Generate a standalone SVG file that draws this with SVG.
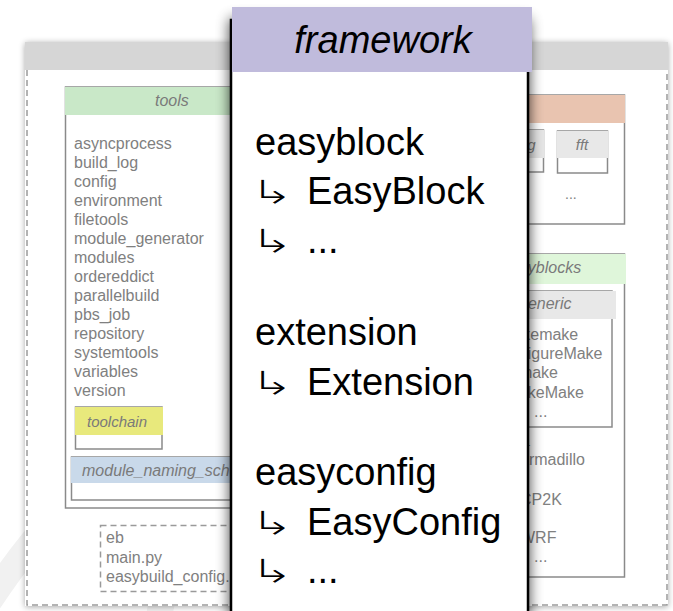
<svg xmlns="http://www.w3.org/2000/svg" width="673" height="611" viewBox="0 0 673 611">
<defs>
<filter id="fwShadow" x="-20%" y="-10%" width="140%" height="120%">
<feGaussianBlur in="SourceAlpha" stdDeviation="7"/>
<feComponentTransfer><feFuncA type="linear" slope="0.75"/></feComponentTransfer>
<feMerge><feMergeNode/><feMergeNode in="SourceGraphic"/></feMerge>
</filter>
<filter id="panelShadow" x="-5%" y="-5%" width="110%" height="110%">
<feGaussianBlur in="SourceAlpha" stdDeviation="3"/>
<feOffset dx="0" dy="1"/>
<feComponentTransfer><feFuncA type="linear" slope="0.35"/></feComponentTransfer>
<feMerge><feMergeNode/><feMergeNode in="SourceGraphic"/></feMerge>
</filter>
<style>
.box{fill:#fff;stroke:#8a8a8a;stroke-width:1.5}
.dash{fill:none;stroke:#9a9a9a;stroke-width:1.5;stroke-dasharray:6 4}
.item{font-family:"Liberation Sans",Arial,sans-serif;font-size:16px;fill:#808080}
.lbl{font-family:"Liberation Sans",Arial,sans-serif;font-size:16px;font-style:italic;fill:#7a7a7a}
.big{font-family:"Liberation Sans",Arial,sans-serif;font-size:38px;fill:#000}
.arr{font-family:"DejaVu Sans",sans-serif;font-size:34px;font-weight:200;fill:#000;stroke:#fff;stroke-width:1;paint-order:fill stroke}
</style>
</defs>
<g id="watermark" fill="none" stroke="#f1f1f1" stroke-linecap="round">
<path d="M-10 600 Q 30 540 70 500" stroke-width="26"/>
<path d="M160 611 Q 175 540 205 520" stroke-width="26"/>
</g>
<g id="panel">
<rect x="25" y="42" width="643" height="564" fill="#fff" filter="url(#panelShadow)"/>
<rect x="25" y="42" width="643" height="28" fill="#d6d6d6"/>
<path class="dash" d="M27 70 V605 H667 V70"/>
</g>
<g id="tools">
<rect class="box" x="65.5" y="87" width="260" height="421"/>
<rect x="65" y="87" width="262" height="28" fill="#c9e8c8"/>
<text class="lbl" x="155" y="106">tools</text>
<text class="item" x="74" y="149">asyncprocess</text>
<text class="item" x="74" y="168">build_log</text>
<text class="item" x="74" y="187">config</text>
<text class="item" x="74" y="206">environment</text>
<text class="item" x="74" y="225">filetools</text>
<text class="item" x="74" y="244">module_generator</text>
<text class="item" x="74" y="263">modules</text>
<text class="item" x="74" y="282">ordereddict</text>
<text class="item" x="74" y="301">parallelbuild</text>
<text class="item" x="74" y="320">pbs_job</text>
<text class="item" x="74" y="339">repository</text>
<text class="item" x="74" y="358">systemtools</text>
<text class="item" x="74" y="377">variables</text>
<text class="item" x="74" y="396">version</text>
</g>
<g id="toolchain">
<rect class="box" x="75.5" y="407" width="86.5" height="42"/>
<rect x="75" y="407" width="88" height="28" fill="#e8e97c"/>
<text class="lbl" x="87" y="427" style="font-size:15px">toolchain</text>
</g>
<g id="module_naming_scheme">
<rect class="box" x="71.5" y="457" width="250" height="43"/>
<rect x="71" y="457" width="252" height="26" fill="#c9d9ea"/>
<text class="lbl" x="82" y="476">module_naming_scheme</text>
</g>
<g id="scripts">
<rect class="dash" x="100.5" y="525.5" width="200" height="66"/>
<text class="item" x="106" y="543">eb</text>
<text class="item" x="106" y="563">main.py</text>
<text class="item" x="106" y="582">easybuild_config.py</text>
</g>
<g id="toolchains">
<rect class="box" x="400" y="95" width="224.5" height="129"/>
<rect x="400" y="95" width="225" height="28" fill="#e9c4b0"/>
</g>
<g id="linalg">
<rect class="box" x="493.5" y="130" width="50" height="42"/>
<rect x="493" y="130" width="51" height="28" fill="#e6e6e6"/>
<text class="lbl" x="518" y="150" text-anchor="middle" style="font-size:15px">linalg</text>
</g>
<g id="fft">
<rect class="box" x="557.5" y="131" width="50" height="42"/>
<rect x="557" y="131" width="51" height="27" fill="#e8e8e8"/>
<text class="lbl" x="582" y="150" text-anchor="middle" style="font-size:15px">fft</text>
<text class="item" x="565" y="199" style="font-size:14px">...</text>
</g>
<g id="easyblocks">
<rect class="box" x="400" y="254" width="224.5" height="323"/>
<rect x="400" y="254" width="226" height="30" fill="#dff6da"/>
<text class="lbl" x="502" y="273">easyblocks</text>
<text class="item" x="521" y="446">a</text>
<text class="item" x="520" y="465">armadillo</text>
<text class="item" x="520" y="505">CP2K</text>
<text class="item" x="520" y="543">WRF</text>
<text class="item" x="534" y="562">...</text>
</g>
<g id="generic">
<rect class="box" x="420" y="291" width="192" height="136"/>
<rect x="420" y="291" width="196" height="28" fill="#e8e8e8"/>
<text class="lbl" x="519" y="309">generic</text>
<text class="item" x="492" y="340">cmakemake</text>
<text class="item" x="494" y="359">ConfigureMake</text>
<text class="item" x="494" y="378">CMmake</text>
<text class="item" x="494" y="398">CMakeMake</text>
<text class="item" x="534" y="417">...</text>
</g>
<g id="connectors"></g>
<g id="framework">
<rect x="231" y="20" width="297" height="600" fill="#fff" stroke="#000" stroke-width="2.5" filter="url(#fwShadow)"/>
<rect x="232" y="7" width="300" height="65" fill="#c0bbdc"/>
<text x="383" y="53" text-anchor="middle" style="font-family:'Liberation Sans',Arial,sans-serif;font-size:38px;font-style:italic;fill:#000">framework</text>
<text class="big" x="255" y="155">easyblock</text>
<text class="arr" transform="translate(249,204) scale(1.6,1)">↳</text>
<text class="big" x="307" y="204">EasyBlock</text>
<text class="arr" transform="translate(249,253) scale(1.6,1)">↳</text>
<text class="big" x="307" y="253">...</text>
<text class="big" x="255" y="345">extension</text>
<text class="arr" transform="translate(249,395) scale(1.6,1)">↳</text>
<text class="big" x="307" y="395">Extension</text>
<text class="big" x="255" y="485">easyconfig</text>
<text class="arr" transform="translate(249,535) scale(1.6,1)">↳</text>
<text class="big" x="307" y="535">EasyConfig</text>
<text class="arr" transform="translate(249,583) scale(1.6,1)">↳</text>
<text class="big" x="307" y="583">...</text>
</g>
</svg>
